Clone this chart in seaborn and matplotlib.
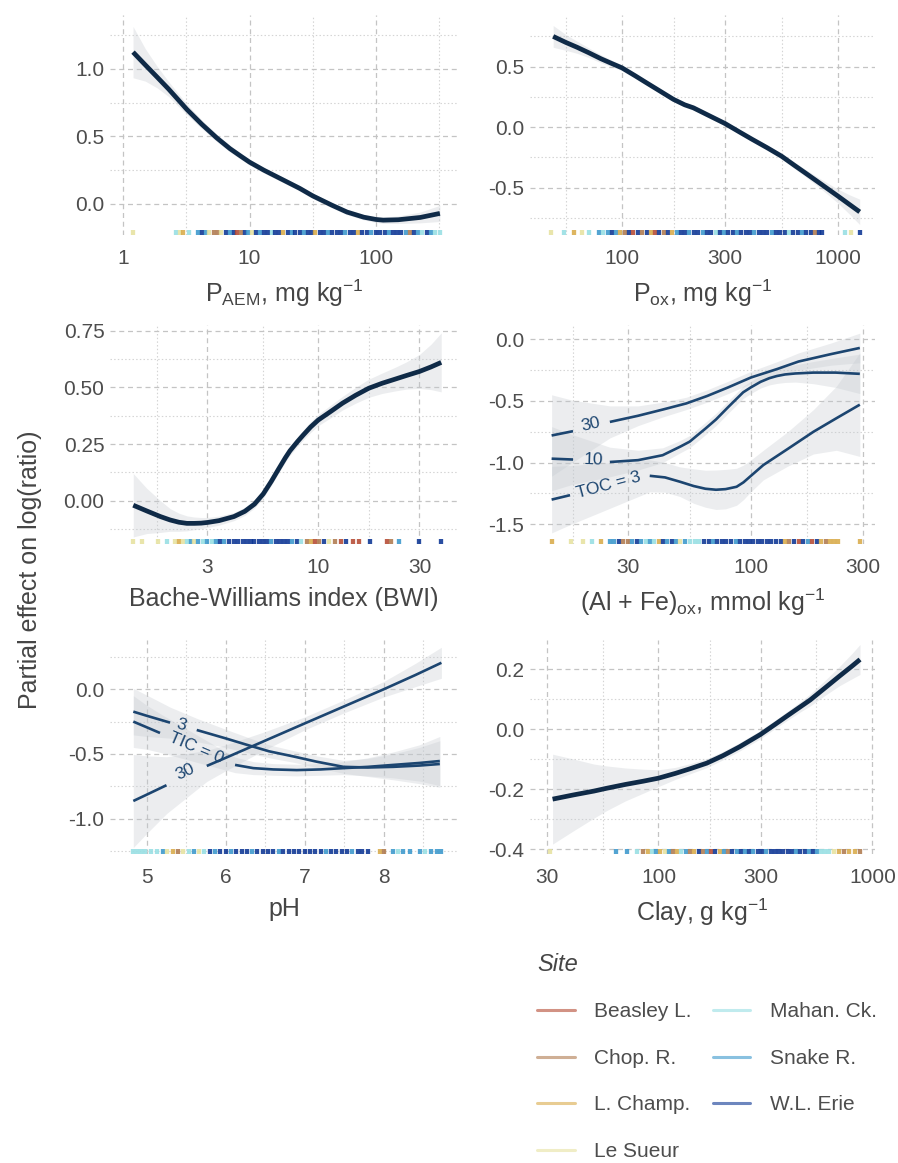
import numpy as np
import pandas as pd
import matplotlib
matplotlib.use("Agg")
import matplotlib.pyplot as plt
import seaborn as sns
from matplotlib.ticker import FixedLocator, FixedFormatter, NullFormatter
from matplotlib.lines import Line2D

# ---------------- data ----------------
site_names = ["Beasley L.", "Chop. R.", "L. Champ.", "Le Sueur", "Mahan. Ck.", "Snake R.", "W.L. Erie"]
site_codes = ["B", "C", "L", "S", "M", "K", "E"]
site_colors = ["#b54a33", "#b07a4f", "#d9ab4a", "#e6e2a0", "#97dfe3", "#3b98cc", "#0c3594"]

# Panel 1: P_AEM
paem_x = [1.2, 1.5, 1.86, 2.3, 3.2, 4.2, 5.5, 7.0, 8.5, 10, 13, 18.7, 25, 31.6, 45, 59, 80, 100, 114, 150,
          224, 320]
paem_fit = [1.125, 1.03, 0.94, 0.85, 0.70, 0.59, 0.49, 0.41, 0.355, 0.31, 0.25, 0.175, 0.115, 0.06, -0.01,
            -0.06, -0.098, -0.115, -0.12, -0.117, -0.10, -0.07]
paem_se = [0.19, 0.12, 0.08, 0.055, 0.04, 0.032, 0.028, 0.025, 0.023, 0.022, 0.02, 0.02, 0.02, 0.02, 0.02,
           0.02, 0.02, 0.022, 0.024, 0.028, 0.04, 0.06]
paem_rug_x = [1.2, 2.6, 2.8, 3.0, 3.3, 3.9, 4.2, 4.5, 4.8, 5.2, 5.6, 6.0, 6.5, 7.0, 7.5, 8.0, 8.6, 9.2, 9.8,
              10.5, 11.2, 12, 13, 14, 15, 16, 17, 18.5, 20, 21.5, 23, 25, 27, 29, 31, 33, 36, 39, 42, 45, 49,
              53, 57, 62, 67, 72, 78, 85, 92, 100, 108, 117, 126, 136, 147, 159, 172, 186, 200, 216, 233, 252,
              272, 295, 320]
paem_rug_site = ("SMSLM" "KEKSC" "CSEKE" "BCEKS" "EKEEM" "EELEK" "EEKEE" "LEEKE" "EEKEE" "LEEKE" "EEKEE"
                 "EKCEK" "MEKMM")

# Panel 2: P_ox
pox_x = [48, 55, 62, 70, 80, 90, 100, 115, 130, 150, 173, 195, 214, 250, 300, 350, 400, 470, 548, 630, 700,
         800, 900, 1000, 1130, 1260]
pox_fit = [0.75, 0.70, 0.66, 0.616, 0.565, 0.525, 0.49, 0.425, 0.366, 0.298, 0.23, 0.185, 0.16, 0.10, 0.03,
           -0.04, -0.10, -0.17, -0.24, -0.317, -0.374, -0.447, -0.512, -0.57, -0.639, -0.70]
pox_se = [0.09, 0.065, 0.05, 0.04, 0.033, 0.027, 0.024, 0.022, 0.02, 0.02, 0.02, 0.02, 0.02, 0.02, 0.02, 0.02,
          0.02, 0.022, 0.024, 0.027, 0.03, 0.037, 0.047, 0.058, 0.08, 0.105]
pox_rug_x = [47, 54, 60, 65, 70, 78, 82, 86, 90, 94, 98, 103, 108, 113, 118, 124, 130, 136, 142, 149, 156, 163,
             171, 179, 187, 196, 205, 215, 225, 236, 247, 259, 271, 284, 297, 311, 326, 341, 357, 374, 392, 410,
             430, 450, 471, 493, 517, 541, 567, 594, 622, 651, 682, 714, 748, 783, 820, 841, 1077, 1150, 1260]
pox_rug_site = ("SMLSM" "KMKEK" "LCEBE" "CELBE" "CELKE" "EKEEK" "EEMEK" "EEKEE" "EKEEE" "KEEEM" "EEKEE"
                "CEE" "MSE")

# Panel 3: BWI
bwi_x = [1.34, 1.55, 1.8, 2.0, 2.2, 2.4, 2.6, 2.8, 3.0, 3.4, 4.0, 4.5, 5.0, 5.5, 6.0, 6.5, 7.0, 7.35, 8.0,
         8.5, 9.2, 10, 11.5, 13, 15, 17.3, 20, 23, 26, 30, 34, 38]
bwi_fit = [-0.02, -0.045, -0.07, -0.085, -0.095, -0.10, -0.10, -0.099, -0.096, -0.088, -0.07, -0.047, -0.015,
           0.03, 0.085, 0.14, 0.19, 0.22, 0.262, 0.29, 0.325, 0.356, 0.395, 0.43, 0.465, 0.496, 0.518, 0.536,
           0.552, 0.57, 0.59, 0.61]
bwi_se = [0.14, 0.1, 0.07, 0.05, 0.04, 0.033, 0.028, 0.025, 0.022, 0.02, 0.018, 0.018, 0.018, 0.018, 0.018,
          0.018, 0.019, 0.02, 0.021, 0.022, 0.024, 0.025, 0.028, 0.03, 0.035, 0.04, 0.045, 0.052, 0.06, 0.075,
          0.1, 0.13]
bwi_rug_x = [1.34, 1.47, 1.76, 1.93, 2.1, 2.2, 2.3, 2.4, 2.5, 2.6, 2.7, 2.85, 3.0, 3.15, 3.3, 3.45, 3.6, 3.8,
             4.0, 4.2, 4.4, 4.6, 4.8, 5.0, 5.25, 5.5, 5.75, 6.0, 6.3, 6.6, 6.9, 7.2, 7.5, 7.9, 8.3, 8.8, 9.2,
             9.6, 10.1, 10.6, 11.2, 12, 12.8, 13.5, 14.5, 15.5, 17.5, 21, 22, 24, 30, 38]
bwi_rug_site = ("SSSM" "SLSMKSKMKMK" "EKEEEEEEEEEEKEEEE" "KEM" "CLBC" "ES" "CB" "EBBE" "BC" "KEE")

# Panel 4: (Al+Fe)ox, three TOC levels
alfe_x30 = [14.1, 17.4, 25, 33, 42, 53, 65, 80, 100, 130, 160, 220, 292]
alfe_fit30 = [-0.78, -0.745, -0.67, -0.62, -0.57, -0.52, -0.46, -0.39, -0.31, -0.24, -0.18, -0.12, -0.07]
alfe_se30 = [0.33, 0.25, 0.13, 0.08, 0.06, 0.05, 0.05, 0.05, 0.05, 0.06, 0.07, 0.09, 0.12]
alfe_x10 = [14.1, 17.4, 25, 33, 42, 50, 54.8, 64, 71, 80, 92.7, 100, 110, 120, 129, 140, 155, 185, 230, 292]
alfe_fit10 = [-0.968, -0.975, -0.995, -0.98, -0.94, -0.87, -0.83, -0.724, -0.65, -0.55, -0.43, -0.39, -0.345,
              -0.315, -0.298, -0.285, -0.277, -0.27, -0.27, -0.28]
alfe_se10 = [0.26, 0.2, 0.12, 0.08, 0.06, 0.05, 0.05, 0.05, 0.05, 0.05, 0.05, 0.05, 0.05, 0.055, 0.06, 0.065,
             0.07, 0.09, 0.12, 0.16]
alfe_x3 = [14.1, 16.9, 37, 43, 49.8, 57, 64, 71, 78, 86.9, 93, 99, 113, 144, 185, 232, 292]
alfe_fit3 = [-1.30, -1.264, -1.107, -1.12, -1.155, -1.19, -1.212, -1.22, -1.215, -1.196, -1.16, -1.115, -1.02,
             -0.888, -0.75, -0.64, -0.53]
alfe_se3 = [0.27, 0.24, 0.13, 0.12, 0.12, 0.14, 0.15, 0.16, 0.16, 0.15, 0.14, 0.13, 0.12, 0.14, 0.18, 0.26, 0.42]
alfe_rug_x = [14.1, 17.1, 19.2, 20.9, 23, 25, 26, 27.3, 28.5, 29.8, 31, 32.5, 34, 35.5, 37, 38.7, 40.5, 42.3,
              44, 46, 48, 50, 52.5, 55, 57.5, 60, 63, 66, 69, 72, 75, 78, 82, 86, 90, 94, 98, 102, 107, 112,
              117, 122, 128, 134, 140, 146, 153, 160, 167, 175, 183, 191, 200, 209, 218, 227, 236, 292]
alfe_rug_site = ("LSSML" "KKECC" "KEKMK" "MLEKE" "KSKMM" "MEEKE" "EEEKE" "EEEEE" "EEEEL" "CEBEK" "BELCL"
                 "LLL")

# Panel 5: pH, three TIC levels
ph_x30 = [4.83, 5.0, 5.25, 5.76, 6.0, 6.5, 7.0, 7.5, 8.0, 8.4, 8.73]
ph_fit30 = [-0.864, -0.815, -0.742, -0.593, -0.53, -0.397, -0.264, -0.132, 0.0, 0.11, 0.205]
ph_se30 = [0.36, 0.3, 0.22, 0.12, 0.1, 0.07, 0.05, 0.05, 0.06, 0.09, 0.12]
ph_x3 = [4.83, 5.0, 5.295, 5.633, 6.0, 6.27, 6.55, 6.86, 7.15, 7.49, 7.8, 8.12, 8.45, 8.71]
ph_fit3 = [-0.173, -0.205, -0.258, -0.315, -0.38, -0.43, -0.48, -0.52, -0.56, -0.60, -0.605, -0.60, -0.59,
           -0.578]
ph_se3 = [0.18, 0.16, 0.12, 0.09, 0.07, 0.06, 0.05, 0.045, 0.045, 0.05, 0.07, 0.1, 0.14, 0.18]
ph_x0 = [4.83, 5.0, 5.168, 6.118, 6.35, 6.6, 6.9, 7.2, 7.49, 7.8, 8.12, 8.45, 8.71]
ph_fit0 = [-0.25, -0.294, -0.338, -0.585, -0.61, -0.62, -0.625, -0.62, -0.61, -0.60, -0.585, -0.57, -0.555]
ph_se0 = [0.2, 0.17, 0.15, 0.06, 0.05, 0.045, 0.045, 0.045, 0.05, 0.07, 0.1, 0.14, 0.19]
ph_rug_x = [4.83, 4.88, 4.93, 4.98, 5.05, 5.13, 5.2, 5.26, 5.33, 5.4, 5.46, 5.53, 5.6, 5.66, 5.73, 5.8, 5.87,
            5.93, 6.0, 6.07, 6.13, 6.2, 6.27, 6.33, 6.4, 6.47, 6.53, 6.6, 6.67, 6.73, 6.8, 6.87, 6.93, 7.0,
            7.07, 7.13, 7.2, 7.27, 7.33, 7.4, 7.47, 7.53, 7.6, 7.67, 7.73, 7.8, 7.95, 8.0, 8.12, 8.18, 8.25,
            8.33, 8.46, 8.52, 8.6, 8.67, 8.73]
ph_rug_site = ("MMMMM" "MKSLC" "SMKSM" "EKEEK" "EEEKE" "EEEKE" "EEEEE" "EEKEE" "EEKEE" "ELCKM" "KKKMK" "KK")

# Panel 6: Clay
clay_x = [32, 40, 50, 57, 70, 85, 100, 120, 140, 168, 200, 240, 300, 350, 400, 460, 512, 600, 700, 800, 875]
clay_fit = [-0.233, -0.219, -0.206, -0.197, -0.184, -0.173, -0.163, -0.147, -0.132, -0.113, -0.088, -0.058,
            -0.017, 0.016, 0.045, 0.075, 0.098, 0.138, 0.177, 0.21, 0.233]
clay_se = [0.15, 0.12, 0.09, 0.075, 0.055, 0.04, 0.028, 0.02, 0.017, 0.015, 0.014, 0.014, 0.014, 0.014, 0.015,
           0.017, 0.02, 0.025, 0.032, 0.042, 0.05]
clay_rug_x = [31.2, 63, 71, 79, 85, 89, 93, 97, 102, 107, 112, 117, 122, 128, 134, 140, 147, 154, 161, 168,
              176, 184, 193, 202, 211, 221, 232, 243, 254, 266, 278, 291, 305, 319, 334, 350, 366, 383, 401,
              420, 440, 461, 482, 505, 528, 550, 575, 600, 630, 660, 700, 740, 780, 830, 875]
clay_rug_site = ("SKKM" "CLMKL" "SKCLM" "KCLEC" "KBELK" "CEKEK" "EKEEK" "EEEEE" "EKEEK" "EK" "MMMSLCLLC")

# ---------------- style ----------------
sns.set_theme(style="white")
plt.rcParams["font.family"] = ["Liberation Sans", "DejaVu Sans"]
plt.rcParams["mathtext.fontset"] = "custom"
plt.rcParams["mathtext.rm"] = "Liberation Sans"
plt.rcParams["mathtext.it"] = "Liberation Sans:italic"
plt.rcParams["mathtext.bf"] = "Liberation Sans:bold"
plt.rcParams["axes.unicode_minus"] = False

W, H = 898, 1163
fig = plt.figure(figsize=(W / 100, H / 100), dpi=100)
fig.patch.set_facecolor("white")

TICK_C = "#4d4d4d"
TITLE_C = "#454545"
FIT_C = "#0f2a47"
CONT_C = "#1c4570"
RIB_C = "#c4c9cf"
code_to_color = dict(zip(site_codes, site_colors))


def make_ax(l, t, r, b):
    return fig.add_axes([l / W, 1 - b / H, (r - l) / W, (b - t) / H])


def style(ax, xlog, xlim, ylim, xmaj, xlab, xmin, ymaj, ylab, ymin, title):
    if xlog:
        ax.set_xscale("log")
    ax.set_xlim(xlim)
    ax.set_ylim(ylim)
    ax.xaxis.set_major_locator(FixedLocator(xmaj))
    ax.xaxis.set_major_formatter(FixedFormatter(xlab))
    ax.xaxis.set_minor_locator(FixedLocator(xmin))
    ax.xaxis.set_minor_formatter(NullFormatter())
    ax.yaxis.set_major_locator(FixedLocator(ymaj))
    ax.yaxis.set_major_formatter(FixedFormatter(ylab))
    ax.yaxis.set_minor_locator(FixedLocator(ymin))
    ax.yaxis.set_minor_formatter(NullFormatter())
    ax.grid(True, which="major", linestyle=(0, (4, 3)), color="#c4c4c4", lw=0.9)
    ax.grid(True, which="minor", linestyle=(0, (1.3, 2.0)), color="#d4d4d4", lw=0.8)
    ax.set_axisbelow(True)
    ax.tick_params(which="both", length=0, labelsize=15, colors=TICK_C)
    ax.tick_params(axis="x", pad=10)
    ax.tick_params(axis="y", pad=4)
    for s in ax.spines.values():
        s.set_visible(False)
    ax.set_facecolor("white")
    ax.set_xlabel(title, fontsize=18, color=TITLE_C, labelpad=7)
    ax.set_ylabel("")


def ribbon(ax, x, y, se):
    x = np.asarray(x, float)
    y = np.asarray(y, float)
    se = np.asarray(se, float)
    ax.fill_between(x, y - se, y + se, color=RIB_C, alpha=0.32, lw=0, zorder=1)


def curve(ax, x, y, color, lw, gap=None):
    df = pd.DataFrame({"x": x, "y": y})
    parts = [df] if gap is None else [df[df.x <= gap[0]], df[df.x >= gap[1]]]
    for p in parts:
        sns.lineplot(data=p, x="x", y="y", ax=ax, color=color, linewidth=lw, estimator=None, sort=False,
                     legend=False, zorder=3, solid_capstyle="butt", solid_joinstyle="round")


def rug(ax, xs, sites):
    pairs = list(zip(xs, sites))
    df = pd.DataFrame({"x": [p[0] for p in pairs], "site": [p[1] for p in pairs]})
    sns.rugplot(data=df, x="x", hue="site", palette=code_to_color, ax=ax, height=0.024, linewidth=3.1,
                alpha=0.88, legend=False, expand_margins=False, zorder=2)


L, R = (110, 458), (530, 875)
ROWS = [(15, 235), (325, 544), (640, 854)]

# Panel 1
ax1 = make_ax(L[0], ROWS[0][0], L[1], ROWS[0][1])
ax1.set_xscale("log")
ribbon(ax1, paem_x, paem_fit, paem_se)
curve(ax1, paem_x, paem_fit, FIT_C, 3.4)
rug(ax1, paem_rug_x, paem_rug_site)
style(ax1, True, (0.789, 445), (-0.23, 1.40), [1, 10, 100], ["1", "10", "100"], [3.162, 31.62, 316.2],
      [0, 0.5, 1.0], ["0.0", "0.5", "1.0"], [0.25, 0.75, 1.25], r"P$_{\mathrm{AEM}}$, mg kg$^{-1}$")

# Panel 2
ax2 = make_ax(R[0], ROWS[0][0], R[1], ROWS[0][1])
ax2.set_xscale("log")
ribbon(ax2, pox_x, pox_fit, pox_se)
curve(ax2, pox_x, pox_fit, FIT_C, 3.4)
rug(ax2, pox_rug_x, pox_rug_site)
style(ax2, True, (37.5, 1483), (-0.891, 0.927), [100, 300, 1000], ["100", "300", "1000"],
      [54.77, 173.2, 547.7], [-0.5, 0, 0.5], ["-0.5", "0.0", "0.5"], [-0.75, -0.25, 0.25, 0.75],
      r"P$_{\mathrm{ox}}$, mg kg$^{-1}$")

# Panel 3
ax3 = make_ax(L[0], ROWS[1][0], L[1], ROWS[1][1])
ax3.set_xscale("log")
ribbon(ax3, bwi_x, bwi_fit, bwi_se)
curve(ax3, bwi_x, bwi_fit, FIT_C, 3.4)
rug(ax3, bwi_rug_x, bwi_rug_site)
style(ax3, True, (1.041, 45.6), (-0.191, 0.775), [3, 10, 30], ["3", "10", "30"], [1.732, 5.477, 17.32],
      [0, 0.25, 0.5, 0.75], ["0.00", "0.25", "0.50", "0.75"], [-0.125, 0.125, 0.375, 0.625],
      "Bache-Williams index (BWI)")

# Panel 4
ax4 = make_ax(R[0], ROWS[1][0], R[1], ROWS[1][1])
ax4.set_xscale("log")
ribbon(ax4, alfe_x30, alfe_fit30, alfe_se30)
ribbon(ax4, alfe_x10, alfe_fit10, alfe_se10)
ribbon(ax4, alfe_x3, alfe_fit3, alfe_se3)
curve(ax4, alfe_x30, alfe_fit30, CONT_C, 1.9, gap=(17.4, 25))
curve(ax4, alfe_x10, alfe_fit10, CONT_C, 1.9, gap=(17.4, 25))
curve(ax4, alfe_x3, alfe_fit3, CONT_C, 1.9, gap=(16.9, 37))
rug(ax4, alfe_rug_x, alfe_rug_site)
ax4.text(20.7, -0.687, "30", rotation=13, ha="center", va="center", fontsize=12.5, color=CONT_C, zorder=4)
ax4.text(21.2, -0.98, "10", rotation=-2, ha="center", va="center", fontsize=12.5, color=CONT_C, zorder=4)
ax4.text(24.6, -1.182, "TOC = 3", rotation=15, ha="center", va="center", fontsize=12.5, color=CONT_C, zorder=4)
style(ax4, True, (11.4, 339), (-1.66, 0.116), [30, 100, 300], ["30", "100", "300"], [17.32, 54.77, 173.2],
      [-1.5, -1.0, -0.5, 0], ["-1.5", "-1.0", "-0.5", "0.0"], [-1.25, -0.75, -0.25],
      r"(Al + Fe)$_{\mathrm{ox}}$, mmol kg$^{-1}$")

# Panel 5
ax5 = make_ax(L[0], ROWS[2][0], L[1], ROWS[2][1])
ribbon(ax5, ph_x30, ph_fit30, ph_se30)
ribbon(ax5, ph_x3, ph_fit3, ph_se3)
ribbon(ax5, ph_x0, ph_fit0, ph_se0)
curve(ax5, ph_x30, ph_fit30, CONT_C, 1.9, gap=(5.25, 5.76))
curve(ax5, ph_x3, ph_fit3, CONT_C, 1.9, gap=(5.295, 5.633))
curve(ax5, ph_x0, ph_fit0, CONT_C, 1.9, gap=(5.168, 6.118))
rug(ax5, ph_rug_x, ph_rug_site)
ax5.text(5.44, -0.276, "3", rotation=-16, ha="center", va="center", fontsize=12.5, color=CONT_C, zorder=4)
ax5.text(5.63, -0.456, "TIC = 0", rotation=-23, ha="center", va="center", fontsize=12.5, color=CONT_C, zorder=4)
ax5.text(5.485, -0.637, "30", rotation=25, ha="center", va="center", fontsize=12.5, color=CONT_C, zorder=4)
style(ax5, False, (4.535, 8.94), (-1.274, 0.381), [5, 6, 7, 8], ["5", "6", "7", "8"], [5.5, 6.5, 7.5, 8.5],
      [-1.0, -0.5, 0], ["-1.0", "-0.5", "0.0"], [-1.25, -0.75, -0.25, 0.25], "pH")

# Panel 6
ax6 = make_ax(R[0], ROWS[2][0], R[1], ROWS[2][1])
ax6.set_xscale("log")
ribbon(ax6, clay_x, clay_fit, clay_se)
curve(ax6, clay_x, clay_fit, FIT_C, 3.4)
rug(ax6, clay_rug_x, clay_rug_site)
style(ax6, True, (25.1, 1028), (-0.416, 0.298), [30, 100, 300, 1000], ["30", "100", "300", "1000"],
      [54.77, 173.2, 547.7], [-0.4, -0.2, 0, 0.2], ["-0.4", "-0.2", "0.0", "0.2"], [-0.3, -0.1, 0.1],
      r"Clay, g kg$^{-1}$")

# shared y label
fig.text(30 / W, 1 - 570 / H, "Partial effect on log(ratio)", rotation=90, ha="center", va="center",
         fontsize=18, color=TITLE_C)

# legend
handles = [Line2D([0], [0], color=c, lw=2.2, alpha=0.6) for c in site_colors]
leg = fig.legend(handles, site_names, ncol=2, loc="upper left", bbox_to_anchor=(537 / W, 1 - 953 / H),
                 frameon=False, fontsize=15, title="Site",
                 title_fontproperties={"style": "italic", "size": 17}, handlelength=1.8, handletextpad=0.95,
                 columnspacing=1.0, labelspacing=1.32, borderpad=0, borderaxespad=0, alignment="left",
                 labelcolor=TICK_C)
leg.get_title().set_color(TITLE_C)
leg._legend_box.sep = 19

fig.savefig("out.png", dpi=100, facecolor="white")
